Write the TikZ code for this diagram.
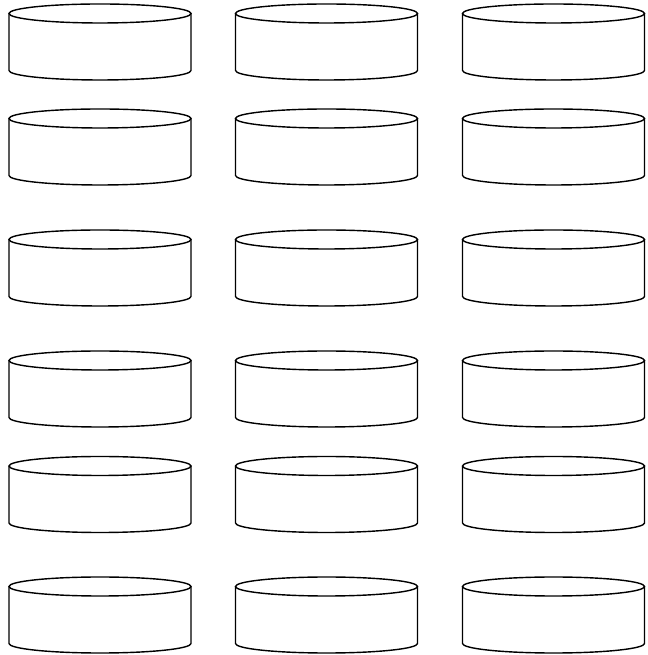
\documentclass[tikz,border=0pt]{standalone}
\tikzset{
  drumline/.style={draw=black, line width=0.8pt, fill=white},
  pics/drum/.style={
    code={
      % body with the lower front rim, then the top lid
      \path[drumline] (-91,28.5) -- (-91,-28.5) arc[start angle=180, end angle=360,
            x radius=91, y radius=9.5] -- (91,28.5);
      \path[drumline] (0,28.5) ellipse[x radius=91, y radius=9.5];
    }
  },
}
\begin{document}
\begin{tikzpicture}[x=0.02cm, y=0.02cm]
  \useasboundingbox (0,0) rectangle (647,655);
  % three columns, six rows of drums
  \foreach \r/\yc in {1/42, 2/147, 3/268, 4/389, 5/494.5, 6/615} {
    \foreach \c/\xc in {1/100, 2/326.5, 3/553.5} {
      \pic (d\r\c) at (\xc,655-\yc) {drum};
    }
  }
\end{tikzpicture}
\end{document}
